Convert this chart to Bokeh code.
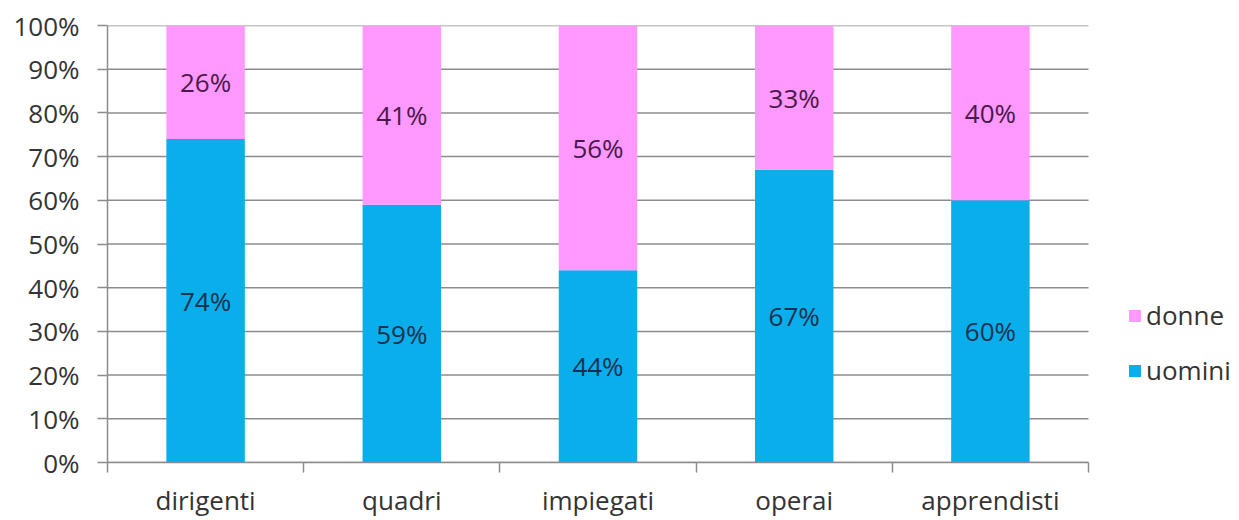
import numpy as np
from bokeh.plotting import figure
from bokeh.models import (ColumnDataSource, Range1d, FixedTicker, PrintfTickFormatter,
                          Legend, LegendItem, LinearAxis)
from bokeh.core.properties import value
from bokeh.embed import file_html
from bokeh.resources import INLINE

categories = ["dirigenti", "quadri", "impiegati", "operai", "apprendisti"]
uomini = [74, 59, 44, 67, 60]
donne = [26, 41, 56, 33, 40]
y_ticks = [0, 10, 20, 30, 40, 50, 60, 70, 80, 90, 100]

FONT = "Open Sans"
FS = "26px"
BLUE = "#0AAEEA"
PINK = "#FF99FF"
GRID = "#8c8c8c"

W, H = 1239, 520
LEFT, TOP, BOTTOM, RIGHT = 107, 25, 55, 5
BAR_AREA = 981  # px covered by the categories

n = len(categories)
xpos = np.arange(n) + 0.5
u = np.array(uomini, dtype=float)
d = np.array(donne, dtype=float)

frame_w = W - LEFT - RIGHT
x_end = n * frame_w / BAR_AREA

src = ColumnDataSource(dict(
    x=xpos, u=u, d=d, u_top=u, d_top=u + d,
    u_mid=u / 2, d_mid=u + d / 2,
    u_lab=[f"{v:g}%" for v in uomini], d_lab=[f"{v:g}%" for v in donne],
))
grid_src = ColumnDataSource(dict(y=y_ticks, x0=[0] * len(y_ticks), x1=[n] * len(y_ticks)))

p = figure(width=W, height=H, output_backend="svg", toolbar_location=None,
           x_range=Range1d(0, x_end), y_range=Range1d(0, 100),
           min_border_left=LEFT, min_border_top=TOP, min_border_bottom=BOTTOM,
           min_border_right=RIGHT, x_axis_location=None, y_axis_location=None)
p.outline_line_color = None
p.xgrid.grid_line_color = None
p.ygrid.grid_line_color = None

p.segment(x0="x0", x1="x1", y0="y", y1="y", source=grid_src,
          line_color=GRID, line_width=1.5)

r_u = p.vbar(x="x", bottom=0, top="u_top", width=0.4, source=src,
             fill_color=BLUE, line_color=None)
r_d = p.vbar(x="x", bottom="u_top", top="d_top", width=0.4, source=src,
             fill_color=PINK, line_color=None)

p.text(x="x", y="u_mid", text="u_lab", source=src, text_align="center",
       text_baseline="middle", text_font=value(FONT), text_font_size=FS,
       text_color="#13324f")
p.text(x="x", y="d_mid", text="d_lab", source=src, text_align="center",
       text_baseline="middle", text_font=value(FONT), text_font_size=FS,
       text_color="#4a1849")

yax = LinearAxis(ticker=FixedTicker(ticks=y_ticks),
                 formatter=PrintfTickFormatter(format="%d%%"))
yax.axis_line_color = GRID
yax.axis_line_width = 1.5
yax.major_tick_line_color = GRID
yax.major_tick_line_width = 1.5
yax.major_tick_out = 10
yax.major_tick_in = 0
yax.minor_tick_line_color = None
yax.major_label_text_font = FONT
yax.major_label_text_font_size = FS
yax.major_label_text_color = "#333333"
yax.major_label_standoff = 18
p.add_layout(yax, "left")

xax = LinearAxis(ticker=FixedTicker(ticks=list(xpos), minor_ticks=list(range(n + 1))),
                 major_label_overrides={float(x): c for x, c in zip(xpos, categories)},
                 bounds=(0, n))
xax.axis_line_color = GRID
xax.axis_line_width = 1.5
xax.major_tick_line_color = None
xax.major_tick_out = 0
xax.major_tick_in = 0
xax.minor_tick_line_color = GRID
xax.minor_tick_line_width = 1.5
xax.minor_tick_out = 10
xax.minor_tick_in = 0
xax.major_label_text_font = FONT
xax.major_label_text_font_size = FS
xax.major_label_text_color = "#333333"
xax.major_label_standoff = 9
p.add_layout(xax, "below")

legend = Legend(items=[LegendItem(label="donne", renderers=[r_d]),
                       LegendItem(label="uomini", renderers=[r_u])],
                location=(1020, 74), orientation="vertical",
                glyph_width=15, glyph_height=15, label_standoff=4, spacing=19,
                label_text_font=FONT, label_text_font_size=FS,
                label_text_color="#333333", border_line_color=None,
                background_fill_alpha=0, padding=0, margin=0, label_height=30)
p.add_layout(legend, "center")

open("out.html", "w").write(file_html(p, INLINE))
